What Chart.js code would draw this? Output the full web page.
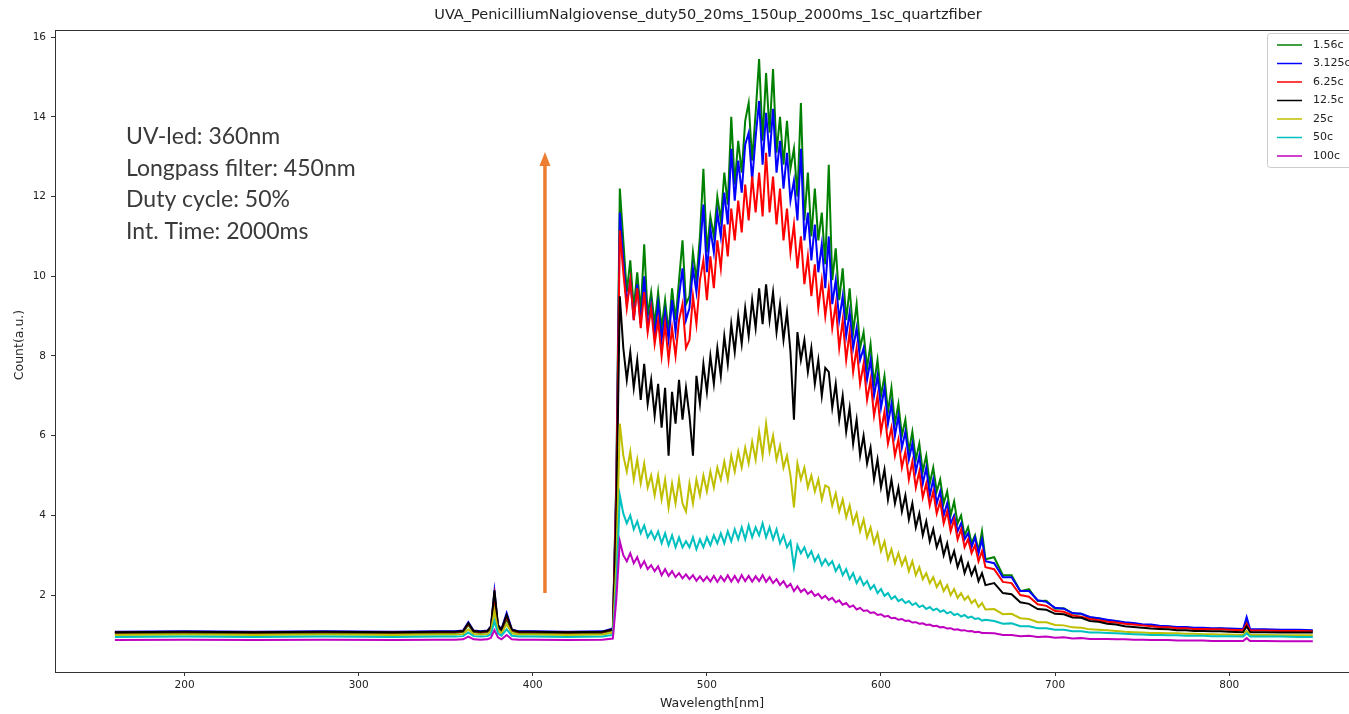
<!DOCTYPE html>
<html>
<head>
<meta charset="utf-8">
<script src="https://cdn.jsdelivr.net/npm/chart.js@4.4.1/dist/chart.umd.min.js"></script>
<style>
  html, body { margin: 0; padding: 0; background: #fff; overflow: hidden; }
  #wrap { width: 1380px; height: 714px; }
</style>
</head>
<body>
<div id="wrap"><canvas id="spectrum" width="1380" height="714"></canvas></div>
<script>
// wavelength grid [nm]: baseline + UV lines, dense signal region, tail
const wlUV = [160, 200, 240, 280, 320, 345, 355, 360, 363, 366,
  370, 374, 376, 378, 380, 382, 385, 388, 392, 400,
  420, 440, 446, 448];
const wlSignal = [450, 452, 454, 456, 458, 460, 462, 464, 466, 468,
  470, 472, 474, 476, 478, 480, 482, 484, 486, 488,
  490, 492, 494, 496, 498, 500, 502, 504, 506, 508,
  510, 512, 514, 516, 518, 520, 522, 524, 526, 528,
  530, 532, 534, 536, 538, 540, 542, 544, 546, 548,
  550, 552, 554, 556, 558, 560, 562, 564, 566, 568,
  570, 572, 574, 576, 578, 580, 582, 584, 586, 588,
  590, 592, 594, 596, 598, 600, 602, 604, 606, 608,
  610, 612, 614, 616, 618, 620, 622, 624, 626, 628,
  630, 632, 634, 636, 638, 640, 642, 644, 646, 648,
  650, 652, 654, 656, 658, 660];
const wlTail = [665, 670, 675, 680, 685, 690, 695, 700, 705, 710,
  715, 720, 725, 730, 735, 740, 745, 750, 755, 760,
  765, 770, 775, 780, 785, 790, 795, 800,
  808, 810, 812, 820, 830, 840, 848];
const wavelength = [...wlUV, ...wlSignal, ...wlTail];

// counts (a.u.) per duty setting
const c156 = [
  1.04,1.05,1.04,1.05,1.04,1.05,1.05,1.07,1.25,1.07,1.05,1.07,1.18,1.95,1.2,1.1,1.4,1.1,1.05,1.05,1.04,1.05,1.12,5.0,
  12.2,10.9,9.6,10.4,9.2,10.1,9.1,10.8,9.0,9.6,
  8.8,9.6,8.7,9.4,8.6,9.7,8.9,9.9,10.9,9.3,
  9.5,10.6,9.9,11.0,12.7,10.6,11.5,11.0,12.0,11.4,
  12.6,11.8,14.0,12.3,13.4,12.6,13.9,14.35,12.9,14.1,
  15.45,13.4,15.1,13.6,15.2,13.1,14.0,12.8,13.9,12.7,
  13.2,12.0,14.35,11.4,12.6,11.0,12.2,10.9,11.6,10.3,
  12.8,9.9,10.7,9.4,10.2,8.9,9.7,8.6,9.3,8.2,
  8.6,7.7,8.3,7.3,7.9,7.0,7.5,6.6,7.2,6.3,
  6.8,6.0,6.4,5.6,6.1,5.4,5.8,5.1,5.5,4.8,
  5.2,4.6,4.9,4.3,4.6,4.0,4.35,3.8,4.0,3.5,
  3.7,3.3,3.5,3.1,3.6,2.9,
  2.95,2.5,2.5,2.1,2.15,1.85,1.86,1.66,1.67,1.54,1.53,1.43,1.42,1.36,1.35,1.3,1.29,1.25,1.25,1.21,
  1.21,1.18,1.19,1.16,1.17,1.15,1.16,1.14,1.14,1.32,1.12,1.13,1.11,1.12,1.1];
const c3125 = [
  1.08,1.09,1.08,1.09,1.08,1.09,1.09,1.11,1.32,1.11,1.09,1.11,1.22,2.1,1.25,1.14,1.55,1.14,1.09,1.09,1.08,1.09,1.16,4.8,
  11.6,10.4,9.3,9.9,8.9,9.8,8.8,10.0,8.7,9.3,
  8.5,9.3,8.4,9.1,8.4,9.4,8.6,9.5,10.2,8.9,
  9.2,10.2,9.6,10.6,11.8,10.1,11.2,10.6,11.6,11.0,
  12.1,11.3,13.2,11.9,12.9,12.1,13.3,13.6,12.4,13.5,
  14.4,12.8,14.1,13.0,14.2,12.6,13.4,12.2,13.1,11.9,
  12.4,11.4,13.2,10.9,11.6,10.4,11.3,10.1,10.8,9.7,
  11.0,9.3,9.9,8.9,9.5,8.5,9.1,8.2,8.7,7.9,
  8.2,7.4,7.9,7.0,7.5,6.7,7.2,6.3,6.8,6.0,
  6.5,5.7,6.1,5.4,5.8,5.1,5.5,4.8,5.2,4.5,
  4.9,4.3,4.6,4.0,4.3,3.8,4.0,3.6,3.8,3.4,
  3.55,3.2,3.45,3.05,3.4,2.85,
  2.8,2.45,2.45,2.1,2.1,1.87,1.83,1.68,1.66,1.55,1.53,1.45,1.42,1.38,1.35,1.32,1.3,1.27,1.26,1.23,
  1.22,1.2,1.2,1.18,1.18,1.17,1.17,1.16,1.15,1.45,1.14,1.14,1.13,1.13,1.12];
const c625 = [
  1.06,1.07,1.06,1.07,1.06,1.07,1.07,1.09,1.28,1.09,1.07,1.09,1.2,2.0,1.22,1.12,1.46,1.12,1.07,1.07,1.06,1.07,1.14,4.6,
  11.15,10.1,9.2,9.9,8.9,9.7,8.7,9.6,8.6,9.2,
  8.3,8.9,8.0,8.8,7.9,8.7,8.0,8.9,9.3,8.2,
  8.4,9.5,8.8,9.9,10.4,9.4,10.5,9.7,10.9,10.2,
  11.3,10.5,11.7,10.9,11.9,11.1,12.3,11.4,12.5,11.6,
  12.6,11.5,13.1,11.6,12.5,11.3,12.2,10.9,11.7,10.6,
  11.3,10.2,11.0,9.8,10.5,9.5,10.3,9.2,9.9,9.0,
  9.7,8.7,9.3,8.2,8.9,7.9,8.6,7.6,8.2,7.3,
  7.8,6.9,7.4,6.5,7.0,6.1,6.6,5.8,6.2,5.5,
  5.9,5.2,5.6,4.9,5.35,4.7,5.1,4.45,4.8,4.25,
  4.6,4.05,4.35,3.8,4.1,3.6,3.9,3.4,3.65,3.2,
  3.4,3.05,3.25,2.85,3.1,2.7,
  2.65,2.33,2.3,2.0,1.96,1.77,1.73,1.6,1.58,1.49,1.46,1.4,1.37,1.33,1.31,1.28,1.26,1.24,1.22,1.2,
  1.19,1.17,1.17,1.15,1.15,1.14,1.14,1.13,1.12,1.28,1.11,1.11,1.1,1.1,1.09];
const c125 = [
  1.07,1.08,1.07,1.08,1.07,1.08,1.08,1.1,1.3,1.1,1.08,1.1,1.21,2.12,1.23,1.13,1.5,1.13,1.08,1.08,1.07,1.08,1.14,4.0,
  9.5,8.2,7.4,8.1,7.2,7.9,6.9,7.8,6.8,7.4,
  6.5,7.3,6.2,7.2,5.5,7.1,6.3,7.4,6.4,7.2,
  6.5,5.5,7.5,6.8,7.8,7.1,8.0,7.3,8.2,7.5,
  8.5,7.8,8.8,8.1,9.0,8.3,9.2,8.5,9.4,8.7,
  9.7,8.8,9.8,8.9,9.6,8.6,9.3,8.4,9.1,8.1,
  6.4,8.6,7.9,8.4,7.6,8.2,7.3,7.9,7.0,7.7,
  7.6,6.7,7.3,6.4,7.0,6.1,6.7,5.8,6.4,5.5,
  6.0,5.3,5.7,4.9,5.4,4.7,5.15,4.4,4.9,4.3,
  4.7,4.1,4.5,3.9,4.3,3.7,4.05,3.5,3.85,3.35,
  3.65,3.2,3.45,3.0,3.3,2.85,3.1,2.7,2.95,2.55,
  2.8,2.5,2.7,2.35,2.55,2.25,
  2.3,2.05,2.02,1.82,1.78,1.65,1.63,1.53,1.52,1.44,1.43,1.35,1.33,1.28,1.26,1.22,1.2,1.18,1.16,1.15,
  1.14,1.12,1.12,1.1,1.1,1.09,1.09,1.08,1.07,1.22,1.07,1.07,1.06,1.06,1.06];
const c25 = [
  1.0,1.01,1.0,1.01,1.0,1.01,1.01,1.02,1.14,1.02,1.01,1.02,1.1,1.6,1.12,1.04,1.27,1.04,1.01,1.01,1.0,1.01,1.06,2.8,
  6.3,5.5,5.1,5.6,4.9,5.4,4.8,5.3,4.7,5.0,
  4.5,5.0,4.4,4.9,4.2,4.8,4.3,4.9,4.3,4.1,
  4.8,4.3,4.9,4.5,5.0,4.6,5.1,4.7,5.2,4.9,
  5.35,4.9,5.5,5.1,5.6,5.2,5.7,5.3,5.85,5.4,
  6.1,5.5,6.3,5.6,6.0,5.4,5.75,5.2,5.5,5.0,
  4.2,5.3,4.9,5.2,4.7,5.0,4.6,4.9,4.4,4.75,
  4.7,4.25,4.55,4.1,4.4,3.95,4.25,3.8,4.05,3.6,
  3.9,3.45,3.7,3.3,3.55,3.1,3.35,2.9,3.15,2.8,
  3.05,2.75,2.95,2.6,2.85,2.5,2.7,2.4,2.55,2.3,
  2.45,2.2,2.35,2.1,2.25,2.0,2.15,1.93,2.05,1.88,
  1.97,1.8,1.88,1.7,1.8,1.64,
  1.65,1.52,1.53,1.42,1.4,1.32,1.32,1.25,1.24,1.19,1.18,1.14,1.13,1.12,1.1,1.08,1.07,1.06,1.05,1.05,
  1.04,1.04,1.03,1.03,1.02,1.02,1.01,1.01,1.0,1.1,1.0,1.0,0.99,0.99,0.99];
const c50 = [
  0.95,0.96,0.95,0.96,0.95,0.96,0.96,0.97,1.06,0.97,0.96,0.97,1.02,1.35,1.04,0.98,1.14,0.98,0.96,0.96,0.95,0.96,1.0,2.2,
  4.5,4.05,3.8,4.0,3.65,3.85,3.55,3.75,3.45,3.6,
  3.4,3.6,3.3,3.55,3.25,3.5,3.2,3.45,3.2,3.35,
  3.2,3.45,3.15,3.4,3.2,3.45,3.25,3.5,3.3,3.55,
  3.3,3.6,3.35,3.65,3.4,3.7,3.4,3.75,3.45,3.7,
  3.5,3.8,3.45,3.7,3.4,3.65,3.3,3.5,3.2,3.35,
  2.7,3.25,3.05,3.2,2.95,3.1,2.85,3.0,2.75,2.9,
  2.75,2.85,2.6,2.75,2.5,2.65,2.4,2.55,2.3,2.45,
  2.25,2.35,2.15,2.25,2.05,2.15,1.98,2.05,1.9,1.97,
  1.85,1.9,1.8,1.85,1.75,1.8,1.7,1.74,1.65,1.7,
  1.62,1.66,1.58,1.62,1.54,1.58,1.5,1.53,1.46,1.5,
  1.43,1.46,1.4,1.42,1.36,1.38,
  1.35,1.28,1.29,1.22,1.22,1.17,1.17,1.13,1.13,1.09,1.09,1.06,1.06,1.05,1.04,1.03,1.02,1.01,1.0,1.0,
  0.99,0.99,0.98,0.98,0.98,0.97,0.97,0.97,0.96,1.04,0.96,0.96,0.96,0.95,0.95];
const c100 = [
  0.87,0.88,0.87,0.88,0.87,0.88,0.88,0.89,0.96,0.89,0.88,0.89,0.93,1.12,0.94,0.89,1.0,0.89,0.88,0.88,0.87,0.88,0.91,1.9,
  3.35,3.0,2.85,3.05,2.8,2.95,2.7,2.85,2.65,2.75,
  2.6,2.72,2.5,2.65,2.48,2.6,2.45,2.55,2.42,2.52,
  2.4,2.5,2.36,2.47,2.35,2.46,2.34,2.48,2.33,2.47,
  2.35,2.5,2.34,2.48,2.33,2.5,2.35,2.48,2.34,2.47,
  2.35,2.5,2.33,2.45,2.3,2.4,2.25,2.35,2.2,2.28,
  2.1,2.22,2.08,2.15,2.03,2.1,1.98,2.03,1.92,1.98,
  1.88,1.93,1.82,1.87,1.76,1.8,1.7,1.74,1.64,1.68,
  1.6,1.62,1.55,1.57,1.5,1.52,1.46,1.48,1.42,1.43,
  1.38,1.4,1.35,1.36,1.31,1.32,1.28,1.29,1.25,1.26,
  1.22,1.23,1.19,1.2,1.16,1.17,1.13,1.14,1.11,1.12,
  1.09,1.1,1.07,1.08,1.05,1.05,
  1.04,1.0,1.0,0.97,0.98,0.95,0.96,0.93,0.94,0.91,0.92,0.9,0.9,0.9,0.89,0.89,0.88,0.88,0.87,0.87,
  0.87,0.86,0.86,0.86,0.86,0.85,0.85,0.85,0.85,0.92,0.85,0.85,0.84,0.84,0.84];

const seriesLabels = ['1.56c', '3.125c', '6.25c', '12.5c', '25c', '50c', '100c'];
const seriesValues = [c156, c3125, c625, c125, c25, c50, c100];
const seriesColors = ['#008000', '#0000ff', '#ff0000', '#000000', '#bfbf00', '#00bfbf', '#bf00bf'];

const xTicks = [200, 300, 400, 500, 600, 700, 800];
const yTicks = [2, 4, 6, 8, 10, 12, 14, 16];

const titleText = 'UVA_PenicilliumNalgiovense_duty50_20ms_150up_2000ms_1sc_quartzfiber';
const noteLines = ['UV-led: 360nm', 'Longpass filter: 450nm', 'Duty cycle: 50%', 'Int. Time: 2000ms'];
// orange arrow, in data units (nm, counts)
const arrowFrom = { x: 407, y: 2.05 };
const arrowTo = { x: 407, y: 13.12 };

const TICK_FONT = { family: 'DejaVu Sans', size: 10.5 };
const INK = '#222';

function toPoints(vals) {
  if (vals.length !== wavelength.length) console.warn('length mismatch', vals.length, wavelength.length);
  return vals.map((v, i) => ({ x: wavelength[i], y: v }));
}

const overlay = {
  id: 'overlay',
  afterDraw(chart) {
    const { ctx, chartArea: a, scales: { x, y } } = chart;
    ctx.save();

    // axes frame (matplotlib style box)
    ctx.strokeStyle = '#333';
    ctx.lineWidth = 1;
    ctx.strokeRect(a.left + 0.5, a.top + 0.5, a.right - a.left - 1, a.bottom - a.top);

    // title
    ctx.fillStyle = INK;
    ctx.font = '14.5px "DejaVu Sans"';
    ctx.textAlign = 'center';
    ctx.textBaseline = 'middle';
    ctx.fillText(titleText, 708, 15);

    // axis titles
    ctx.font = '12.5px "DejaVu Sans"';
    ctx.fillText('Wavelength[nm]', 712, 704);
    ctx.save();
    ctx.translate(20, 345);
    ctx.rotate(-Math.PI / 2);
    ctx.fillText('Count(a.u.)', 0, 0);
    ctx.restore();

    // annotation text
    ctx.fillStyle = '#3a3a3a';
    ctx.font = '23px Lato';
    ctx.textAlign = 'left';
    ctx.textBaseline = 'alphabetic';
    noteLines.forEach((t, i) => ctx.fillText(t, 126, 144 + i * 31.5));

    // arrow
    const ax = x.getPixelForValue(arrowFrom.x);
    const y0 = y.getPixelForValue(arrowFrom.y);
    const y1 = y.getPixelForValue(arrowTo.y);
    ctx.strokeStyle = '#ed7d31';
    ctx.fillStyle = '#ed7d31';
    ctx.lineWidth = 3.5;
    ctx.beginPath();
    ctx.moveTo(ax, y0);
    ctx.lineTo(ax, y1 + 12);
    ctx.stroke();
    ctx.beginPath();
    ctx.moveTo(ax, y1);
    ctx.lineTo(ax - 5.5, y1 + 14);
    ctx.lineTo(ax + 5.5, y1 + 14);
    ctx.closePath();
    ctx.fill();

    // legend box, upper right
    const lx = a.right - 105, ly = a.top + 3;
    ctx.fillStyle = 'rgba(255,255,255,0.85)';
    ctx.strokeStyle = '#cccccc';
    ctx.lineWidth = 1;
    ctx.beginPath();
    ctx.roundRect(lx + 0.5, ly + 0.5, 120, 134, 3);
    ctx.fill();
    ctx.stroke();
    ctx.font = '11px "DejaVu Sans"';
    ctx.textBaseline = 'middle';
    seriesLabels.forEach((lab, i) => {
      const ry = ly + 12 + i * 18.5;
      ctx.strokeStyle = seriesColors[i];
      ctx.lineWidth = 1.5;
      ctx.beginPath();
      ctx.moveTo(lx + 10, ry);
      ctx.lineTo(lx + 35, ry);
      ctx.stroke();
      ctx.fillStyle = INK;
      ctx.fillText(lab, lx + 46, ry);
    });

    ctx.restore();
  }
};

new Chart(document.getElementById('spectrum'), {
  type: 'line',
  data: {
    datasets: seriesValues.map((vals, i) => ({
      label: seriesLabels[i],
      data: toPoints(vals),
      borderColor: seriesColors[i],
      backgroundColor: seriesColors[i],
      borderWidth: 2,
      pointRadius: 0,
      tension: 0,
      order: seriesValues.length - i, // first series drawn first, last on top
    })),
  },
  options: {
    responsive: false,
    animation: false,
    devicePixelRatio: 1,
    layout: { padding: { left: 0, top: 30, right: 8, bottom: 0 } },
    plugins: { legend: { display: false }, tooltip: { enabled: false }, title: { display: false } },
    scales: {
      x: {
        type: 'linear',
        min: 125.6,
        max: 882,
        afterFit: s => { s.height = 42; },
        afterBuildTicks: s => { s.ticks = xTicks.map(v => ({ value: v })); },
        ticks: { font: TICK_FONT, color: INK, padding: 3, maxRotation: 0 },
        grid: { drawOnChartArea: false, drawTicks: true, tickLength: 4, color: '#333' },
        border: { display: true, color: '#333' },
      },
      y: {
        type: 'linear',
        min: 0.07,
        max: 16.18,
        afterFit: s => { s.width = 55; },
        afterBuildTicks: s => { s.ticks = yTicks.map(v => ({ value: v })); },
        ticks: { font: TICK_FONT, color: INK, padding: 5 },
        grid: { drawOnChartArea: false, drawTicks: true, tickLength: 4, color: '#333' },
        border: { display: true, color: '#333' },
      },
    },
  },
  plugins: [overlay],
});
</script>
</body>
</html>
